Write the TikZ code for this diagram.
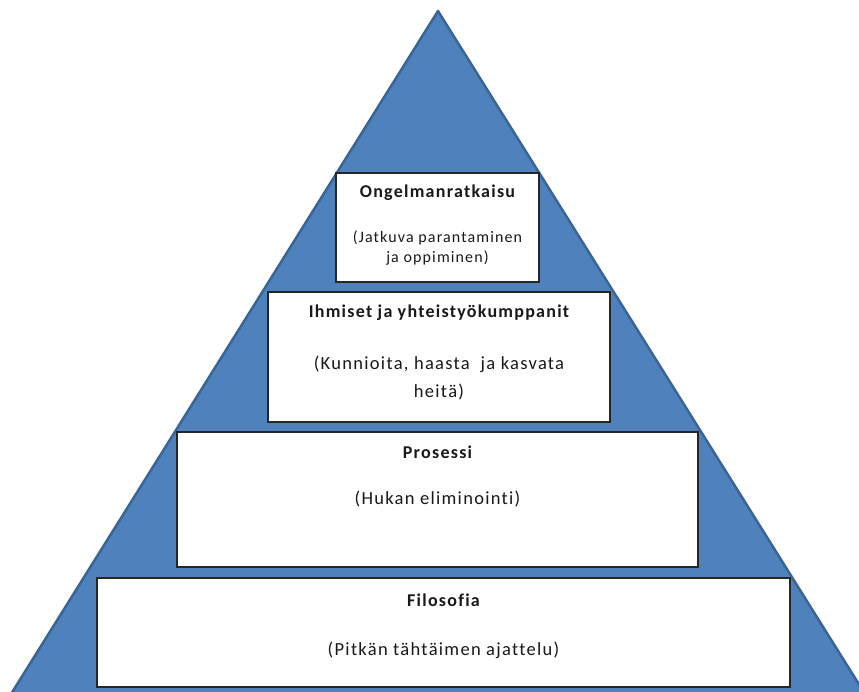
\documentclass[tikz,border=0pt]{standalone}
\usepackage{fontspec}
\setmainfont{Carlito}
\newfontfamily\tierfont[LetterSpace=7, Ligatures=NoCommon]{Carlito}
\usepackage{xcolor}
\usetikzlibrary{positioning,calc}

\definecolor{pyrblue}{HTML}{4F81BD}
\definecolor{pyredge}{HTML}{3A6594}

\begin{document}
\begin{tikzpicture}[
    x=1pt, y=-1pt,
    thick,
    tier/.style={rectangle, draw=black!85, line width=1.3pt, fill=white, inner sep=0pt},
    title/.style={font=\tierfont\fontsize{18}{22}\selectfont\bfseries, text=black!90, inner sep=0pt},
    desc/.style={font=\tierfont\fontsize{18.5}{22}\selectfont, text=black!90, align=center, inner sep=0pt}
]

% Canvas
\useasboundingbox (0,0) rectangle (859,691);

% Pyramid
\coordinate (apex) at (438,11);
\coordinate (baseL) at (11,694);
\coordinate (baseR) at (865,694);
\begin{scope}
\clip (0,0) rectangle (859,691);
\filldraw [fill=pyrblue, draw=pyredge, line width=2.5pt, line join=round] (apex) -- (baseR) -- (baseL) -- cycle;
\end{scope}

% Tiers
\node [tier, minimum width=203pt, minimum height=109pt] (ongel) at (437.5,227.5) {};
\node [tier, minimum width=342pt, minimum height=130pt] (ihmiset) at (439,357) {};
\node [tier, minimum width=521pt, minimum height=135pt] (prosessi) at (437.5,499.5) {};
\node [tier, minimum width=693pt, minimum height=109pt] (filosofia) at (443.5,632.5) {};

% Texts
\node [title] (ongelT) at ([yshift=-20pt]ongel.north) {Ongelmanratkaisu};
\node [desc, font=\tierfont\fontsize{16}{20}\selectfont] (ongelD) at ([yshift=-76pt]ongel.north) {(Jatkuva parantaminen\\ja oppiminen)};

\node [title] (ihmisetT) at ([yshift=-21pt]ihmiset.north) {Ihmiset ja yhteistyökumppanit};
\node [desc, font=\tierfont\fontsize{18.5}{28}\selectfont] (ihmisetD) at ([yshift=-87pt]ihmiset.north) {(Kunnioita, haasta\ \ ja kasvata\\heitä)};

\node [title] (prosessiT) at ([yshift=-21pt]prosessi.north) {Prosessi};
\node [desc] (prosessiD) at ([yshift=-68pt]prosessi.north) {(Hukan eliminointi)};

\node [title] (filosofiaT) at ([yshift=-23pt]filosofia.north) {Filosofia};
\node [desc] (filosofiaD) at ([yshift=-73pt]filosofia.north) {(Pitkän tähtäimen ajattelu)};

\end{tikzpicture}
\end{document}
